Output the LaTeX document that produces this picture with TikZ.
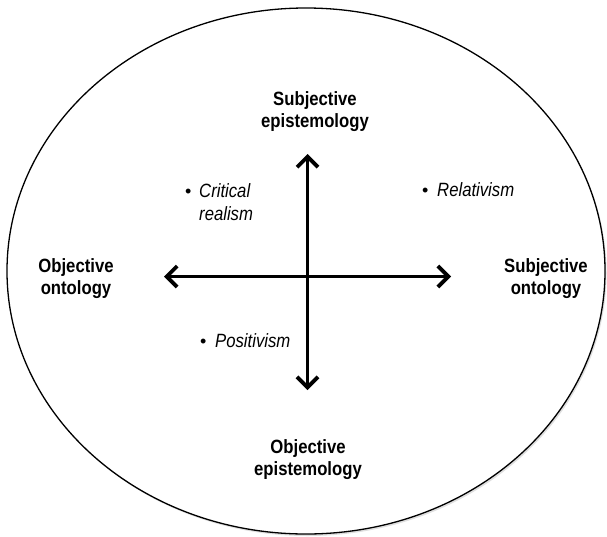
\documentclass[tikz,border=0pt]{standalone}
\usepackage{fontspec}
\setmainfont{Liberation Sans}
\usetikzlibrary{arrows.meta,shadows,calc,shapes.geometric}
\newcommand\stretchy[1]{\scalebox{1}[1.15]{#1}}
\begin{document}
\begin{tikzpicture}[x=1pt,y=-1pt,
  axis/.style={line width=3.8pt,{Straight Barb[length=10.5pt,width=21pt]}-{Straight Barb[length=10.5pt,width=21pt]}},
  pole/.style={font=\fontsize{16.7}{22}\selectfont\bfseries,align=center,inner sep=0pt},
  school/.style={font=\fontsize{16.7}{23}\selectfont\itshape,align=left,inner sep=0pt,anchor=base west},
  dot/.style={font=\fontsize{18}{22}\selectfont,inner sep=0pt,anchor=base west}]
\useasboundingbox (0,0) rectangle (607,536);
\node[draw,ellipse,line width=1.3pt,minimum width=598pt,minimum height=526pt,inner sep=0pt,
  drop shadow={opacity=0.25,shadow xshift=1.5pt,shadow yshift=-2pt},fill=white] (oval) at (306,271) {};
% axes
\coordinate (top) at (307.5,154);
\coordinate (bot) at (307.5,390);
\coordinate (lft) at (164,276.5);
\coordinate (rgt) at (451,276.5);
\draw[axis] (top) -- (bot);
\draw[axis] (lft) -- (rgt);
% pole labels (anchor = baseline of last line)
\node[pole,anchor=base] (subep) at (315,127) {\stretchy{Subjective}\\\stretchy{epistemology}};
\node[pole,anchor=base] (objep) at (308,475) {\stretchy{Objective}\\\stretchy{epistemology}};
\node[pole,anchor=base] (objon) at (76,294) {\stretchy{Objective}\\\stretchy{ontology}};
\node[pole,anchor=base] (subon) at (546,294) {\stretchy{Subjective}\\\stretchy{ontology}};
% schools
\node[dot] (b1) at (185,197) {•};
\node[school] (cr) at (199,220) {\stretchy{Critical}\\\stretchy{realism}};
\node[dot] (b2) at (422,196) {•};
\node[school] (rel) at (437,196) {\stretchy{Relativism}};
\node[dot] (b3) at (200,347) {•};
\node[school] (pos) at (215,347) {\stretchy{Positivism}};
\end{tikzpicture}
\end{document}
